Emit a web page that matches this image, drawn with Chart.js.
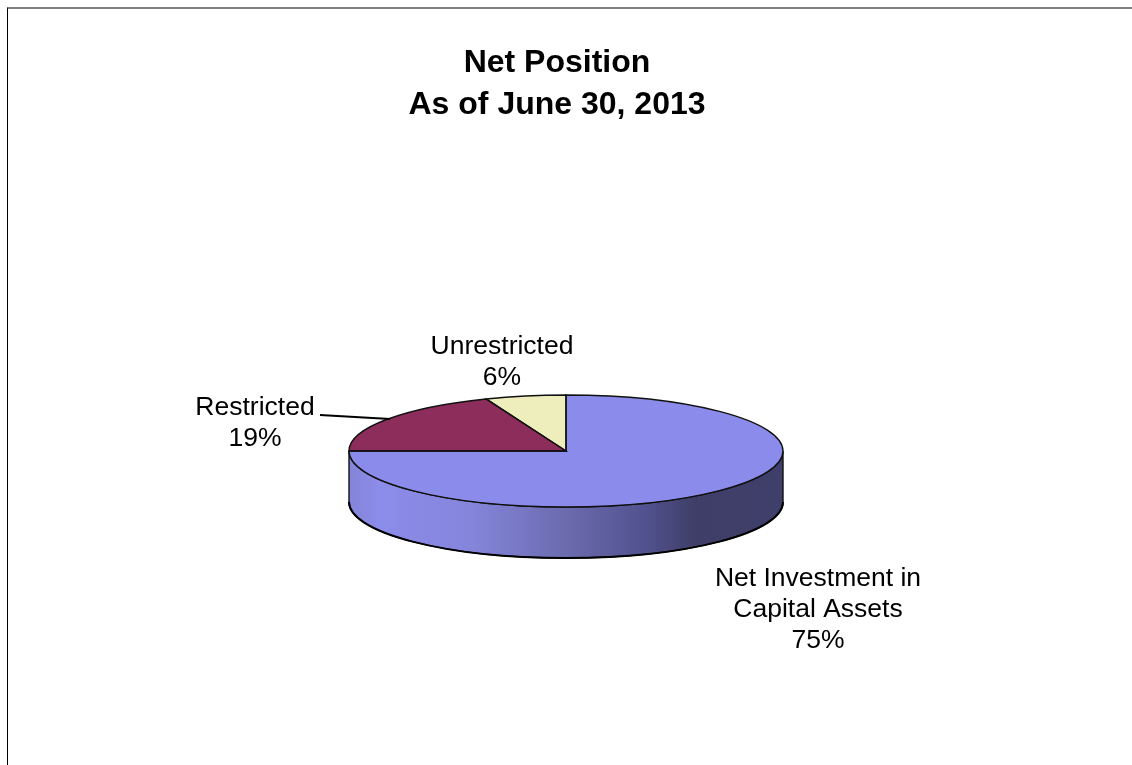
<!DOCTYPE html>
<html>
<head>
<meta charset="utf-8">
<title>Net Position</title>
<script src="https://cdn.jsdelivr.net/npm/chart.js@4"></script>
<style>
    html, body { margin: 0; padding: 0; background: #fff; overflow: hidden; }
    #frame {
        position: absolute; left: 7px; top: 7px; right: 0; bottom: 0;
        border-left: 1px solid #000; border-top: 2px solid #808080;
        pointer-events: none;
    }
    canvas { position: absolute; left: 0; top: 0; }
</style>
</head>
<body>
<canvas id="netPosition" width="1132" height="765"></canvas>
<div id="frame"></div>
<script>
// Net position by component, in percent
const categories = ['Net Investment in\nCapital Assets', 'Restricted', 'Unrestricted'];
const shares = [75, 19, 6];
const sliceColors = ['#8b8beb', '#8c2d5c', '#eeeebd'];
const titleLines = ['Net Position', 'As of June 30, 2013'];

const tilt = 56 / 217;  // flattening of the disc
const depth = 51;       // height of the side wall
const labelFont = '26.5px "Liberation Sans", Arial, sans-serif';
const labelLineGap = 31;

// Where each label block sits, as an offset from the disc centre
const labelOffsets = [
    { dx: 252, dy: 135 },
    { dx: -311, dy: -36 },
    { dx: -64, dy: -97 }
];

const disc3d = {
    id: 'disc3d',
    afterLayout(chart) {
        // title is centred a little left of the disc
        chart.titleBlock.right -= 18;
    },
    beforeDatasetsDraw(chart) {
        const ctx = chart.ctx;
        const arcs = chart.getDatasetMeta(0).data;
        const { x, y, outerRadius } = arcs[0];
        const ry = outerRadius * tilt;

        // side wall, only the part of each slice that faces front
        const shade = ctx.createLinearGradient(x - outerRadius, 0, x + outerRadius, 0);
        shade.addColorStop(0, '#8484d8');
        shade.addColorStop(0.07, '#8c8cea');
        shade.addColorStop(0.28, '#8585dc');
        shade.addColorStop(0.5, '#6b6bae');
        shade.addColorStop(0.68, '#525290');
        shade.addColorStop(0.8, '#3e3e68');
        shade.addColorStop(1, '#3f3f6b');

        arcs.forEach(arc => {
            const from = Math.max(arc.startAngle, 0);
            const to = Math.min(arc.endAngle, Math.PI);
            if (to <= from) return;
            ctx.beginPath();
            ctx.ellipse(x, y, outerRadius, ry, 0, from, to);
            ctx.ellipse(x, y + depth, outerRadius, ry, 0, to, from, true);
            ctx.closePath();
            ctx.fillStyle = shade;
            ctx.fill();
            ctx.strokeStyle = '#111';
            ctx.lineWidth = 1.4;
            ctx.stroke();

            // heavier rim along the bottom
            ctx.beginPath();
            ctx.ellipse(x, y + depth, outerRadius, ry, 0, from, to);
            ctx.lineWidth = 2;
            ctx.strokeStyle = '#000';
            ctx.stroke();
        });

        // squash the slices Chart.js is about to draw
        ctx.save();
        ctx.translate(x, y);
        ctx.scale(1, tilt);
        ctx.translate(-x, -y);
    },
    afterDatasetsDraw(chart) {
        const ctx = chart.ctx;
        ctx.restore();

        const arcs = chart.getDatasetMeta(0).data;
        const { x, y, outerRadius } = arcs[0];
        const ry = outerRadius * tilt;

        // slice outlines are stroked here so the line width stays even
        ctx.strokeStyle = '#111';
        ctx.lineWidth = 1.4;
        arcs.forEach(arc => {
            ctx.beginPath();
            ctx.moveTo(x, y);
            ctx.ellipse(x, y, outerRadius, ry, 0, arc.startAngle, arc.endAngle);
            ctx.closePath();
            ctx.stroke();
        });

        // labels
        ctx.fillStyle = '#000';
        ctx.font = labelFont;
        ctx.textAlign = 'center';
        ctx.textBaseline = 'alphabetic';
        categories.forEach((name, i) => {
            const lines = name.split('\n').concat(shares[i] + '%');
            const off = labelOffsets[i];
            lines.forEach((line, n) => {
                ctx.fillText(line, x + off.dx, y + off.dy + n * labelLineGap);
            });
        });

        // leader line for the Restricted label
        ctx.beginPath();
        ctx.moveTo(x - 246, y - 36);
        ctx.lineTo(x - 176, y - 32);
        ctx.lineWidth = 2;
        ctx.strokeStyle = '#000';
        ctx.stroke();
    }
};

new Chart(document.getElementById('netPosition'), {
    type: 'pie',
    data: {
        labels: categories,
        datasets: [{
            data: shares,
            backgroundColor: sliceColors,
            borderWidth: 0,
            radius: 217
        }]
    },
    options: {
        responsive: false,
        animation: false,
        events: [],
        layout: { padding: 0 },
        plugins: {
            legend: { display: false },
            tooltip: { enabled: false },
            title: {
                display: true,
                text: titleLines,
                color: '#000',
                font: { family: '"Liberation Sans", Arial, sans-serif', size: 32, weight: 'bold', lineHeight: 1.3125 },
                padding: { top: 42, bottom: 11 }
            }
        }
    },
    plugins: [disc3d]
});
</script>
</body>
</html>
